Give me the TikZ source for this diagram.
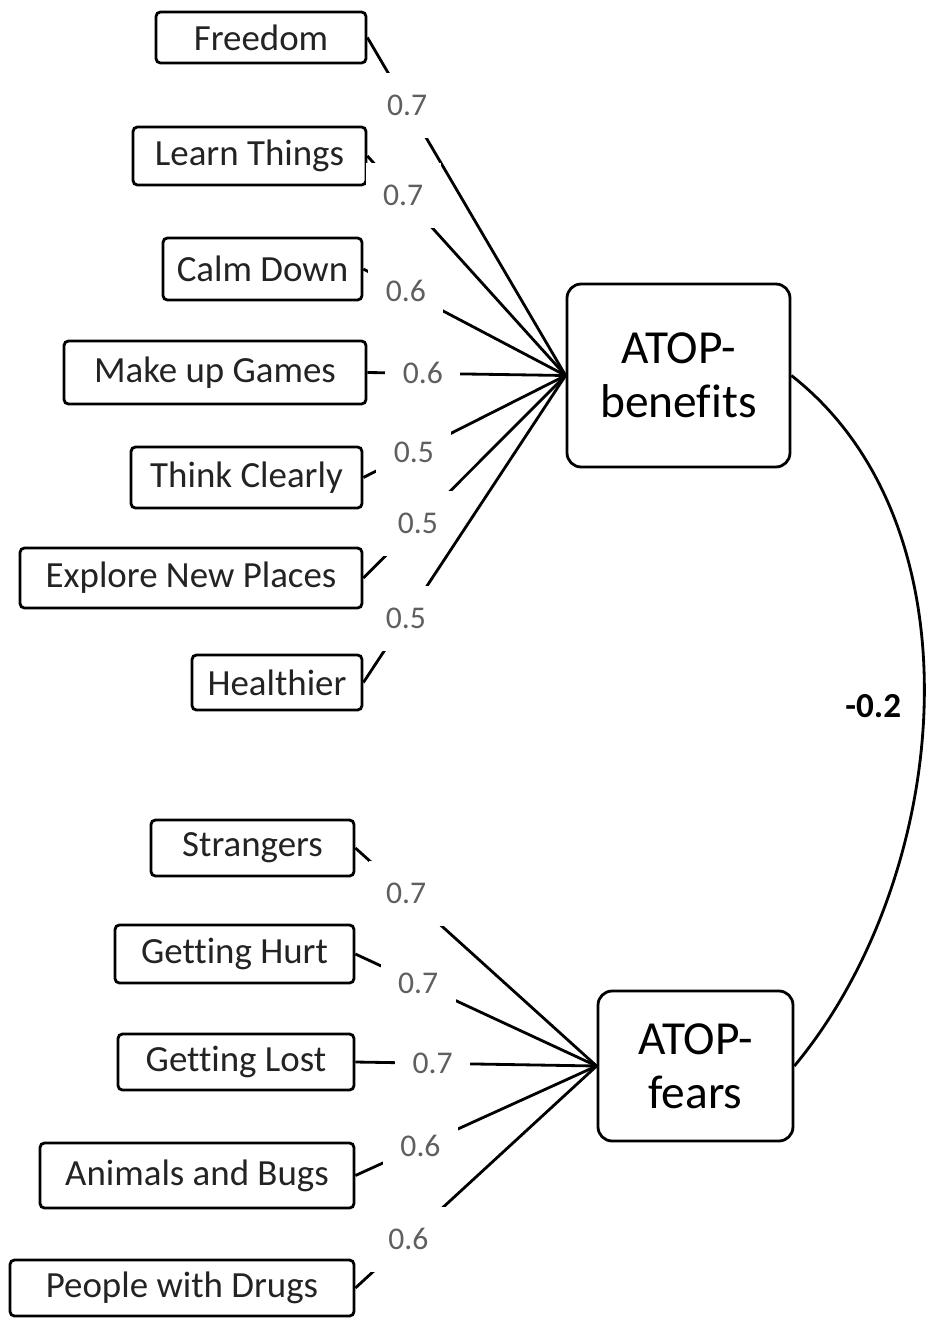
\documentclass[tikz,border=0pt]{standalone}
\usepackage{fontspec}
\setmainfont{Carlito}[Ligatures=NoCommon]
\usepackage{xcolor}
\usetikzlibrary{positioning}

\definecolor{coefgray}{RGB}{95,95,95}
\definecolor{itemtext}{RGB}{35,35,35}

\tikzset{
  item/.style={draw, rounded corners=2.5pt, line width=1.6pt, text=itemtext,
    inner sep=0pt, font=\fontsize{21}{25}\selectfont},
  factor/.style={draw, rounded corners=8pt, line width=1.6pt, align=center,
    inner sep=0pt, font=\fontsize{27}{31}\selectfont},
  coef/.style={fill=white, text=coefgray, inner sep=0pt,
    minimum width=1.5cm, minimum height=1.3cm, font=\fontsize{18}{20}\selectfont},
  path/.style={line width=1.6pt}
}

\begin{document}
\begin{tikzpicture}[x=0.02cm, y=-0.02cm]
    \useasboundingbox (0,0) rectangle (926,1319);

    % latent factors
    \node[factor, minimum width=4.46cm, minimum height=3.66cm] (atopb) at (678.5,375.5) {ATOP-\\benefits};
    \node[factor, minimum width=3.9cm, minimum height=3cm] (atopf) at (695.5,1066) {ATOP-\\fears};

    % benefit items
    \node[item, minimum width=4.2cm, minimum height=1.02cm] (freedom) at (261,37.5) {Freedom};
    \node[item, minimum width=4.66cm, minimum height=1.16cm] (learn) at (249.5,156) {Learn Things};
    \node[item, minimum width=3.98cm, minimum height=1.24cm] (calm) at (262.5,269) {Calm Down};
    \node[item, minimum width=6.04cm, minimum height=1.26cm] (games) at (215,372.5) {Make up Games};
    \node[item, minimum width=4.62cm, minimum height=1.22cm] (think) at (246.5,477.5) {Think Clearly};
    \node[item, minimum width=6.84cm, minimum height=1.2cm] (explore) at (191,578) {Explore New Places};
    \node[item, minimum width=3.4cm, minimum height=1.1cm] (healthier) at (277,682.5) {Healthier};

    % fear items
    \node[item, minimum width=4.06cm, minimum height=1.12cm] (strangers) at (252.5,848) {Strangers};
    \node[item, minimum width=4.78cm, minimum height=1.16cm] (hurt) at (234.5,954) {Getting Hurt};
    \node[item, minimum width=4.72cm, minimum height=1.12cm] (lost) at (236,1062) {Getting Lost};
    \node[item, minimum width=6.28cm, minimum height=1.3cm] (bugs) at (197,1175.5) {Animals and Bugs};
    \node[item, minimum width=6.88cm, minimum height=1.12cm] (drugs) at (182,1288) {People with Drugs};

    % loadings
    \draw[path] (freedom.east) -- (atopb.west) node[coef, pos=0.2] {0.7};
    \draw[path] (learn.east) -- (atopb.west) node[coef, pos=0.18] {0.7};
    \draw[path] (calm.east) -- (atopb.west) node[coef, pos=0.21] {0.6};
    \draw[path] (games.east) -- (atopb.west) node[coef, pos=0.28] {0.6};
    \draw[path] (think.east) -- (atopb.west) node[coef, pos=0.25] {0.5};
    \draw[path] (explore.east) -- (atopb.west) node[coef, pos=0.27] {0.5};
    \draw[path] (healthier.east) -- (atopb.west) node[coef, pos=0.21] {0.5};

    \draw[path] (strangers.east) -- (atopf.west) node[coef, pos=0.21] {0.7};
    \draw[path] (hurt.east) -- (atopf.west) node[coef, pos=0.26] {0.7};
    \draw[path] (lost.east) -- (atopf.west) node[coef, pos=0.32] {0.7};
    \draw[path] (bugs.east) -- (atopf.west) node[coef, pos=0.27] {0.6};
    \draw[path] (drugs.east) -- (atopf.west) node[coef, pos=0.22] {0.6};

    % correlation
    \draw[path] (atopb.east) .. controls +(193,151) and +(157,-189) .. (atopf.east)
        node[pos=0.5, left=9pt, font=\bfseries\fontsize{20}{22}\selectfont] (corr) {-0.2};
\end{tikzpicture}
\end{document}
